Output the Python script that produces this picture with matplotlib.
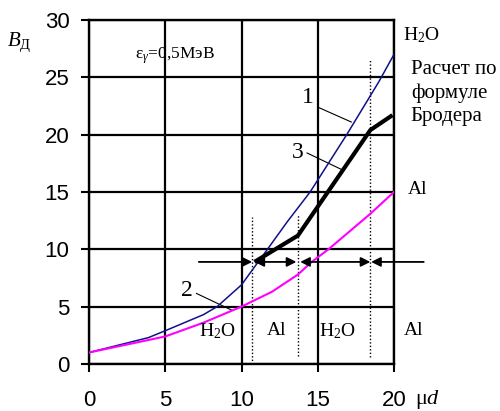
import matplotlib
matplotlib.use("Agg")
import matplotlib.pyplot as plt

plt.rcParams["mathtext.fontset"] = "custom"
plt.rcParams["mathtext.rm"] = "Liberation Serif"
plt.rcParams["mathtext.it"] = "Liberation Serif:italic"

# ── Data ──────────────────────────────────────────────────────────────────────

# curve 1: Broder formula, H2O
h2o_x = [0, 3.9, 5, 7.5, 8.4, 10, 10.6, 11.7, 13, 14.5, 16.9, 19, 20]
h2o_y = [1.0, 2.3, 2.9, 4.3, 5.0, 6.9, 8.0, 10.0, 12.4, 15.0, 20.0, 24.6, 27.0]

# curve 2: Broder formula, Al
al_x = [0, 5, 7.5, 10, 12, 13.7, 14.6, 15.7, 18.45, 20]
al_y = [1.0, 2.4, 3.6, 5.0, 6.3, 7.8, 8.9, 10.0, 13.1, 15.0]

# curve 3: layered medium
mix_x = [10.85, 13.7, 18.45, 19.9]
mix_y = [8.9, 11.2, 20.4, 21.7]

# layer boundaries (dotted) and their vertical extent
bounds = [10.7, 13.7, 18.45]
bound_lo = [0.0, 0.7, 0.6]
bound_hi = [12.8, 13.0, 26.5]

arrow_y = 8.9

SERIF = "Liberation Serif"

fig = plt.figure(figsize=(5.0, 4.11), dpi=100)
ax = fig.add_axes([0.178, 0.1144, 0.61, 0.837])

ax.plot(h2o_x, h2o_y, color="#10108a", lw=1.1, zorder=3)
ax.plot(al_x, al_y, color="#ff00ff", lw=1.5, zorder=3)
ax.plot(mix_x, mix_y, color="black", lw=3.0, zorder=4, solid_capstyle="butt")

for bx, lo, hi in zip(bounds, bound_lo, bound_hi):
    ax.plot([bx, bx], [lo, hi], color="black", ls=(0, (1, 1.5)), lw=1.0, zorder=2)

# ── Arrows marking layers ─────────────────────────────────────────────────────
ap = dict(color="black", lw=1.3, mutation_scale=14, shrinkA=0, shrinkB=0)
ax.annotate("", xy=(10.7, arrow_y), xytext=(7.2, arrow_y),
            arrowprops=dict(arrowstyle="-|>", **ap))
ax.annotate("", xy=(13.6, arrow_y), xytext=(10.85, arrow_y),
            arrowprops=dict(arrowstyle="<|-|>", **ap))
ax.annotate("", xy=(18.45, arrow_y), xytext=(13.85, arrow_y),
            arrowprops=dict(arrowstyle="<|-|>", **ap))
ax.annotate("", xy=(18.5, arrow_y), xytext=(21.95, arrow_y),
            arrowprops=dict(arrowstyle="-|>", **ap), annotation_clip=False)

# ── Curve labels with leaders ─────────────────────────────────────────────────
ax.text(14.35, 23.2, "1", fontsize=17, family=SERIF, ha="center", va="center")
ax.plot([15.0, 17.2], [22.4, 21.1], color="black", lw=0.8)
ax.text(13.7, 18.4, "3", fontsize=17, family=SERIF, ha="center", va="center")
ax.plot([14.3, 16.5], [18.4, 17.0], color="black", lw=0.8)
ax.text(6.4, 6.45, "2", fontsize=17, family=SERIF, ha="center", va="center")
ax.plot([7.05, 9.35], [6.15, 4.7], color="black", lw=0.8)

ax.text(3.0, 26.9, "ε$_{γ}$=0,5МэВ", fontsize=12.5, family=SERIF, va="center")

# right-hand annotations
ax.text(20.6, 28.7, "H$_2$O", fontsize=14, family=SERIF, va="center", clip_on=False)
ax.text(21.1, 26.5, "Расчет по\nформуле\nБродера", fontsize=15, family=SERIF,
        va="top", linespacing=1.3, clip_on=False)
ax.text(20.9, 15.2, "Al", fontsize=14, family=SERIF, va="center", clip_on=False)

# layer materials along the bottom
for lx, lab in zip([8.4, 12.3, 16.3, 21.3], ["H$_2$O", "Al", "H$_2$O", "Al"]):
    ax.text(lx, 2.9, lab, fontsize=14, family=SERIF, ha="center", va="center",
            clip_on=False)

# ── Axes ──────────────────────────────────────────────────────────────────────
ax.set_xlim(0, 20)
ax.set_ylim(0, 30)
ax.set_xticks([0, 5, 10, 15, 20])
ax.set_yticks([0, 5, 10, 15, 20, 25, 30])
ax.grid(True, color="black", lw=1.6)
ax.set_axisbelow(True)
for sp in ax.spines.values():
    sp.set_linewidth(1.7)
ax.tick_params(direction="out", length=6, width=1.5, labelsize=16, pad=8)
ax.tick_params(axis="x", pad=13)
for lab in ax.get_xticklabels() + ax.get_yticklabels():
    lab.set_fontfamily("Liberation Sans")

fig.text(0.014, 0.897, "$B_{\\mathrm{Д}}$", fontsize=15, family=SERIF, va="center")
fig.text(0.83, 0.027, "μ$d$", fontsize=16, family=SERIF, va="center")

fig.savefig("out.png", dpi=100)
